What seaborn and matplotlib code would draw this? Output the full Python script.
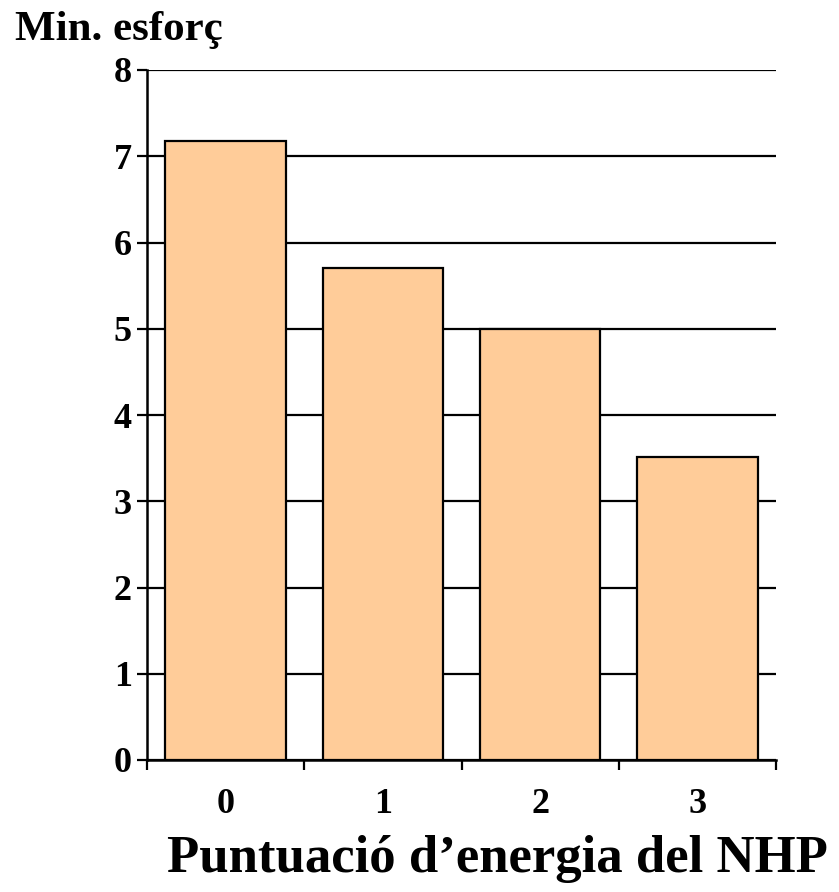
import matplotlib
matplotlib.use("Agg")
import matplotlib.pyplot as plt
import seaborn as sns
import pandas as pd
import numpy as np

# NHP energy score categories and mean effort minutes
categories = ["0", "1", "2", "3"]
minutes = [7.18, 5.7, 5.0, 3.51]
y_ticks = [0, 1, 2, 3, 4, 5, 6, 7, 8]

sns.set_style("white")
plt.rcParams["font.family"] = ["Liberation Serif", "DejaVu Serif"]
plt.rcParams["font.weight"] = "bold"
plt.rcParams["text.color"] = "black"
plt.rcParams["xtick.color"] = "black"
plt.rcParams["ytick.color"] = "black"

df = pd.DataFrame({"score": categories, "minutes": minutes})

fig = plt.figure(figsize=(8.39, 8.92), dpi=100)
ax = fig.add_axes([147 / 839, 132 / 892, 629 / 839, 690 / 892])

sns.barplot(data=df, x="score", y="minutes", color="#FFCC99",
            saturation=1, edgecolor="black", linewidth=1.6,
            width=0.765, ax=ax, zorder=3)

ax.set_ylim(0, 8)
ax.set_xlim(-0.5, len(categories) - 0.5)
ax.set_yticks(y_ticks)
ax.set_yticklabels([str(t) for t in y_ticks], fontsize=26, fontweight="bold",
                   color="black")
ax.set_xticks(range(len(categories)))
ax.set_xticklabels(categories, fontsize=26, fontweight="bold", color="black")
ax.set_xticks(np.arange(-0.5, len(categories)), minor=True)

ax.tick_params(axis="x", which="major", bottom=True, length=0, pad=20)
ax.tick_params(axis="x", which="minor", bottom=True, length=7, width=1.6,
               direction="out", color="black")
ax.tick_params(axis="y", which="major", left=True, length=7, width=1.6,
               direction="out", color="black", pad=4)

ax.yaxis.grid(True, color="black", linewidth=1.6, zorder=0)
ax.xaxis.grid(False)
ax.set_axisbelow(True)

for side in ("top", "right"):
    ax.spines[side].set_visible(False)
for side in ("left", "bottom"):
    ax.spines[side].set_color("black")
    ax.spines[side].set_linewidth(1.8)

ax.set_xlabel("")
ax.set_ylabel("")

fig.text(15 / 839, 1 - 40 / 892, "Min. esforç", fontsize=31, fontweight="bold",
         ha="left", va="baseline", color="black")
fig.text(497 / 839, 1 - 872 / 892, "Puntuació d\u2019energia del NHP", fontsize=38,
         fontweight="bold", ha="center", va="baseline", color="black")

fig.savefig("out.png", dpi=100)
